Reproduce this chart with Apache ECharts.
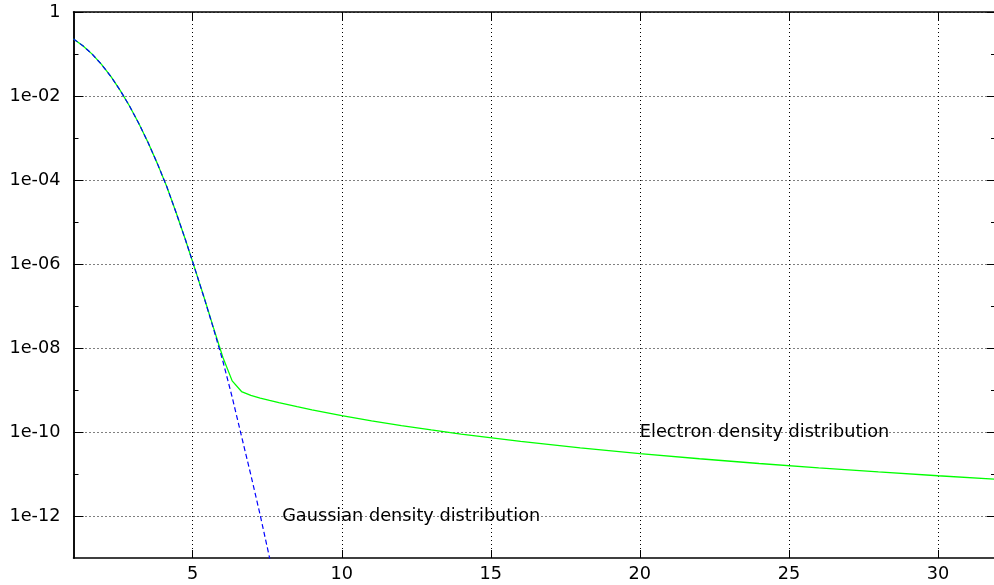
<!DOCTYPE html>
<html>
<head>
<meta charset="utf-8">
<script src="https://cdn.jsdelivr.net/npm/echarts@6/dist/echarts.min.js"></script>
<style>
  html, body { margin: 0; padding: 0; background: #ffffff; }
  #chart { width: 994px; height: 585px; }
</style>
</head>
<body>
<div id="chart"></div>
<script>
// Sample positions shared by both curves in the core region
const sampleX = [1.000, 1.313, 1.626, 1.939, 2.253, 2.566, 2.879, 3.192, 3.505, 3.818,
                 4.131, 4.444, 4.758, 5.071, 5.384, 5.697, 6.010, 6.323, 6.636, 6.949,
                 7.263, 7.576, 7.889];

// Gaussian density at the sample positions
const gaussianY = [2.28e-1, 1.58e-1, 9.93e-2, 5.65e-2, 2.92e-2, 1.36e-2, 5.77e-3, 2.21e-3,
                   7.67e-4, 2.42e-4, 6.89e-5, 1.66e-5, 3.72e-6, 7.76e-7, 1.55e-7, 2.88e-8,
                   4.90e-9, 6.76e-10, 7.94e-11, 9.55e-12, 1.05e-12, 1.02e-13, 8.91e-15];

// Electron density: core samples followed by the slowly decaying tail
const electronX = [1.000, 1.313, 1.626, 1.939, 2.253, 2.566, 2.879, 3.192, 3.505, 3.818,
                   4.131, 4.444, 4.758, 5.071, 5.384, 5.697, 6.010, 6.323, 6.636, 6.949,
                   7.263, 7.576, 7.889, 8.5, 9, 10, 11, 12, 13, 14, 16, 18, 20, 22, 24,
                   26, 28, 30, 32];
const electronY = [2.28e-1, 1.58e-1, 9.93e-2, 5.65e-2, 2.92e-2, 1.36e-2, 5.77e-3, 2.21e-3,
                   7.67e-4, 2.42e-4, 6.89e-5, 1.66e-5, 3.72e-6, 7.78e-7, 1.57e-7, 3.01e-8,
                   6.03e-9, 1.65e-9, 9.19e-10, 7.41e-10, 6.42e-10, 5.65e-10, 5.00e-10,
                   4.00e-10, 3.37e-10, 2.46e-10, 1.84e-10, 1.42e-10, 1.12e-10, 8.95e-11,
                   5.99e-11, 4.21e-11, 3.07e-11, 2.31e-11, 1.78e-11, 1.40e-11, 1.12e-11,
                   9.09e-12, 7.49e-12];

// Axis ticks
const xTicks = [5, 10, 15, 20, 25, 30];
const yTicks = [1, 1e-2, 1e-4, 1e-6, 1e-8, 1e-10, 1e-12];
const yTickLabels = ['1', '1e-02', '1e-04', '1e-06', '1e-08', '1e-10', '1e-12'];
const yMinorTicks = [1e-1, 1e-3, 1e-5, 1e-7, 1e-9, 1e-11];

// Curve captions and where they sit (data coordinates)
const electronCaption = 'Electron density distribution';
const gaussianCaption = 'Gaussian density distribution';
const electronCaptionAt = [20, 1e-10];
const gaussianCaptionAt = [8, 1e-12];

const FONT = 'DejaVu Sans';
const FONT_SIZE = 17.7;

function yLabelFor(v) {
  const lv = Math.log10(v);
  for (let i = 0; i < yTicks.length; i++) {
    if (Math.abs(Math.log10(yTicks[i]) - lv) < 1e-6) return yTickLabels[i];
  }
  return '';
}

const gridDots = { color: '#000', width: 1, type: [1, 3] };
const frameLine = { show: true, onZero: false, lineStyle: { color: '#000', width: 1.5 } };
const noLine = { show: false, onZero: false };

// The visible window ends just short of x = 32
const X_MIN = 1, X_MAX = 31.88, Y_MIN = 1e-13, Y_MAX = 1;

function yAxisDef(position, ticks, len, withLabels, line) {
  return {
    type: 'log',
    logBase: 10,
    min: Y_MIN,
    max: Y_MAX,
    position: position,
    axisLine: line,
    axisTick: { show: true, inside: true, length: len, customValues: ticks,
                lineStyle: { color: '#000', width: 1 } },
    axisLabel: withLabels ? {
      show: true, customValues: ticks, margin: 13,
      color: '#000', fontFamily: FONT, fontSize: FONT_SIZE,
      formatter: yLabelFor
    } : { show: false },
    splitLine: withLabels ? { show: true, lineStyle: gridDots } : { show: false },
    minorTick: { show: false },
    minorSplitLine: { show: false }
  };
}

function xAxisDef(position, withLabels) {
  return {
    type: 'value',
    min: X_MIN,
    max: X_MAX,
    position: position,
    axisLine: frameLine,
    axisTick: { show: true, inside: true, length: 8, customValues: xTicks,
                lineStyle: { color: '#000', width: 1 } },
    axisLabel: withLabels ? {
      show: true, customValues: xTicks, margin: 7,
      color: '#000', fontFamily: FONT, fontSize: FONT_SIZE
    } : { show: false },
    splitLine: withLabels ? { show: true, lineStyle: gridDots } : { show: false }
  };
}

const chart = echarts.init(document.getElementById('chart'), null, { renderer: 'canvas' });

chart.setOption({
  animation: false,
  backgroundColor: '#ffffff',
  grid: { left: 73.5, top: 12, right: 0, bottom: 27, containLabel: false },
  xAxis: [xAxisDef('bottom', true), xAxisDef('top', false)],
  yAxis: [
    yAxisDef('left', yTicks, 10, true, frameLine),
    yAxisDef('left', yMinorTicks, 5, false, frameLine),
    yAxisDef('right', yTicks, 7, false, noLine),
    yAxisDef('right', yMinorTicks, 3, false, noLine)
  ],
  series: [
    {
      name: electronCaption,
      type: 'line',
      xAxisIndex: 0,
      yAxisIndex: 0,
      data: electronX.map((x, i) => [x, electronY[i]]),
      showSymbol: false,
      symbol: 'none',
      clip: true,
      lineStyle: { color: '#00ff00', width: 1.3 },
      markPoint: {
        symbol: 'circle',
        symbolSize: 0,
        silent: true,
        data: [{ coord: electronCaptionAt }],
        label: {
          show: true, position: 'right', distance: 0,
          formatter: electronCaption,
          color: '#000', fontFamily: FONT, fontSize: FONT_SIZE
        }
      },
      z: 2
    },
    {
      name: gaussianCaption,
      type: 'line',
      xAxisIndex: 0,
      yAxisIndex: 0,
      data: sampleX.map((x, i) => [x, gaussianY[i]]),
      showSymbol: false,
      symbol: 'none',
      clip: true,
      lineStyle: { color: '#0000ff', width: 1.2, type: [5, 3] },
      markPoint: {
        symbol: 'circle',
        symbolSize: 0,
        silent: true,
        data: [{ coord: gaussianCaptionAt }],
        label: {
          show: true, position: 'right', distance: 0,
          formatter: gaussianCaption,
          color: '#000', fontFamily: FONT, fontSize: FONT_SIZE
        }
      },
      z: 3
    }
  ]
});
</script>
</body>
</html>
